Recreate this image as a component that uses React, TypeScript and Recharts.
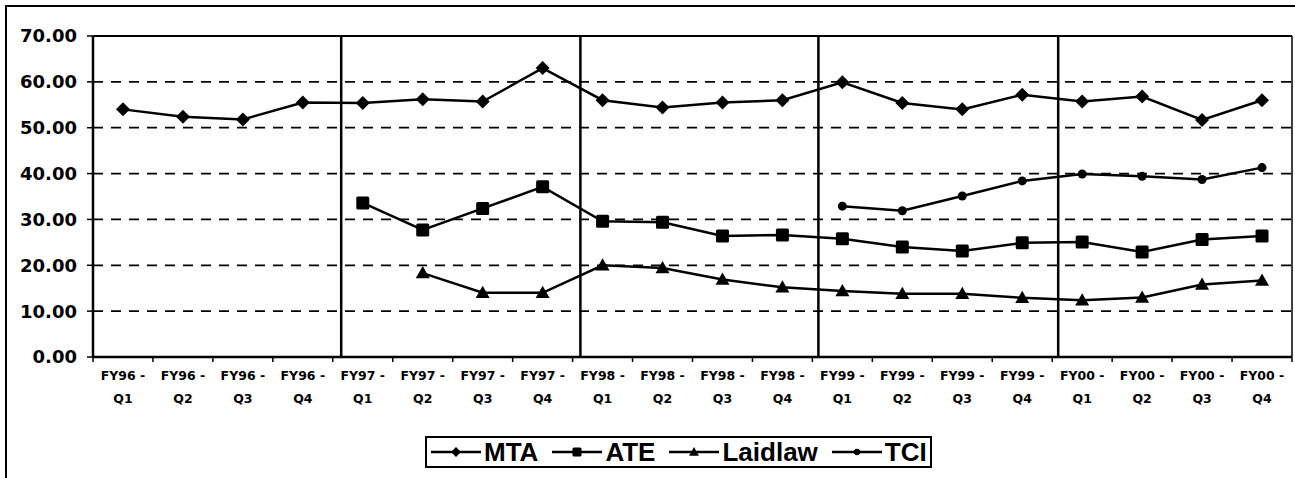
import React from 'react'
import { LineChart, Line, XAxis, YAxis, CartesianGrid, ReferenceLine, Legend } from 'recharts'

const quarters = [
  'FY96 - Q1', 'FY96 - Q2', 'FY96 - Q3', 'FY96 - Q4',
  'FY97 - Q1', 'FY97 - Q2', 'FY97 - Q3', 'FY97 - Q4',
  'FY98 - Q1', 'FY98 - Q2', 'FY98 - Q3', 'FY98 - Q4',
  'FY99 - Q1', 'FY99 - Q2', 'FY99 - Q3', 'FY99 - Q4',
  'FY00 - Q1', 'FY00 - Q2', 'FY00 - Q3', 'FY00 - Q4',
]

const mta = [54.0, 52.4, 51.8, 55.5, 55.4, 56.2, 55.7, 63.0, 56.0, 54.4, 55.5, 56.0, 59.9, 55.4, 54.0, 57.2, 55.7, 56.8, 51.7, 56.0]
const ate = [null, null, null, null, 33.6, 27.7, 32.4, 37.1, 29.6, 29.4, 26.4, 26.6, 25.8, 24.0, 23.1, 24.9, 25.1, 22.9, 25.6, 26.4]
const laidlaw = [null, null, null, null, null, 18.3, 14.0, 14.0, 20.0, 19.4, 16.9, 15.2, 14.4, 13.8, 13.8, 12.9, 12.4, 13.0, 15.8, 16.7]
const tci = [null, null, null, null, null, null, null, null, null, null, null, null, 32.9, 31.9, 35.1, 38.4, 39.9, 39.4, 38.7, 41.3]

const yTicks = [0, 10, 20, 30, 40, 50, 60, 70]
// year separators sit a little right of the category boundaries in the original
const yearBreaks = [3.64, 7.63, 11.6, 15.6]

const data = quarters.map((q, i) => ({
  x: i,
  MTA: mta[i],
  ATE: ate[i],
  Laidlaw: laidlaw[i],
  TCI: tci[i],
}))

// ticks at every category centre (labels) and every boundary (tick marks)
const xTicks: number[] = []
for (let i = -1; i < quarters.length; i++) {
  if (i >= 0) xTicks.push(i)
  xTicks.push(i + 0.5)
}

const AXIS_FONT = '"DejaVu Sans", sans-serif'
const LEGEND_FONT = '"Liberation Sans", Arial, sans-serif'

type Shape = 'diamond' | 'square' | 'triangle' | 'circle'

function Marker({ cx, cy, shape, s = 1 }: { cx: number; cy: number; shape: Shape; s?: number }) {
  if (shape === 'diamond') {
    const r = 7 * s
    return <polygon points={`${cx},${cy - r} ${cx + r},${cy} ${cx},${cy + r} ${cx - r},${cy}`} fill="#000" />
  }
  if (shape === 'square') {
    const r = 6.5 * s
    return <rect x={cx - r} y={cy - r} width={r * 2} height={r * 2} rx={1.5} fill="#000" />
  }
  if (shape === 'triangle') {
    const r = 7 * s
    return <polygon points={`${cx},${cy - r} ${cx + r},${cy + r * 0.75} ${cx - r},${cy + r * 0.75}`} fill="#000" />
  }
  return <circle cx={cx} cy={cy} r={4.5 * s} fill="#000" />
}

const makeDot = (shape: Shape) => (props: any) => {
  const { cx, cy, index, value } = props
  if (cx == null || cy == null || value == null) return <g key={`d-${index}`} />
  return <Marker key={`d-${index}`} cx={cx} cy={cy} shape={shape} />
}

function QuarterTick({ x, y, payload }: any) {
  const v = payload.value
  if (!Number.isInteger(v)) {
    return <line x1={x} x2={x} y1={y} y2={y + 5} stroke="#000" strokeWidth={1.5} />
  }
  const [fy, q] = quarters[v].split(' - ')
  return (
    <text x={x} y={y} textAnchor="middle" fill="#000" fontFamily={AXIS_FONT} fontWeight="bold" fontSize={12.5}>
      <tspan x={x} dy={23}>{`${fy} -`}</tspan>
      <tspan x={x} dy={23}>{q}</tspan>
    </text>
  )
}

const series: { key: string; shape: Shape }[] = [
  { key: 'MTA', shape: 'diamond' },
  { key: 'ATE', shape: 'square' },
  { key: 'Laidlaw', shape: 'triangle' },
  { key: 'TCI', shape: 'circle' },
]

function LegendBox() {
  return (
    <div
      style={{
        display: 'flex',
        alignItems: 'center',
        border: '2px solid #000',
        background: '#fff',
        padding: '1px 3px 1px 4px',
        fontFamily: LEGEND_FONT,
        fontWeight: 'bold',
        fontSize: 26,
        lineHeight: '26px',
        whiteSpace: 'nowrap',
      }}
    >
      {series.map((s, i) => (
        <span key={s.key} style={{ display: 'flex', alignItems: 'center', marginLeft: i === 0 ? 0 : 14 }}>
          <svg width={50} height={18} style={{ marginRight: 3 }}>
            <line x1={0} x2={50} y1={9} y2={9} stroke="#000" strokeWidth={2.5} />
            <Marker cx={25} cy={9} shape={s.shape} s={0.7} />
          </svg>
          {s.key}
        </span>
      ))}
    </div>
  )
}

export default function App() {
  return (
    <div style={{ position: 'absolute', left: 0, top: 0, width: 1295, height: 478, background: '#fff', overflow: 'hidden' }}>
      <div
        style={{
          position: 'absolute',
          left: 5,
          top: 5,
          width: 1310,
          height: 500,
          border: '2px solid #000',
          boxSizing: 'border-box',
        }}
      />
      <LineChart width={1295} height={478} data={data} margin={{ top: 36, right: 3, bottom: 81, left: 0 }}>
        <CartesianGrid
          vertical={false}
          horizontalValues={[10, 20, 30, 40, 50, 60]}
          stroke="#000"
          strokeWidth={1.8}
          strokeDasharray="10 8"
        />
        <XAxis
          dataKey="x"
          type="number"
          domain={[-0.5, quarters.length - 0.5]}
          ticks={xTicks}
          interval={0}
          tick={<QuarterTick />}
          tickLine={false}
          tickSize={0}
          tickMargin={0}
          axisLine={{ stroke: '#000', strokeWidth: 2.5 }}
          height={40}
          allowDecimals
        />
        <YAxis
          type="number"
          domain={[0, 70]}
          ticks={yTicks}
          interval={0}
          width={93}
          tickFormatter={(v: number) => v.toFixed(2)}
          tick={{ fill: '#000', fontFamily: AXIS_FONT, fontWeight: 'bold', fontSize: 18 }}
          tickLine={{ stroke: '#000', strokeWidth: 1.5 }}
          tickSize={6}
          tickMargin={10}
          axisLine={{ stroke: '#000', strokeWidth: 2.5 }}
        />
        <ReferenceLine y={70} stroke="#000" strokeWidth={1.8} />
        <ReferenceLine x={quarters.length - 0.5} stroke="#000" strokeWidth={1.5} />
        {yearBreaks.map((b) => (
          <ReferenceLine key={b} x={b} stroke="#000" strokeWidth={2.5} />
        ))}
        {series.map((s) => (
          <Line
            key={s.key}
            type="linear"
            dataKey={s.key}
            stroke="#000"
            strokeWidth={2.5}
            dot={makeDot(s.shape)}
            activeDot={false}
            isAnimationActive={false}
            connectNulls={false}
          />
        ))}
        <Legend
          layout="horizontal"
          verticalAlign="middle"
          align="center"
          wrapperStyle={{ left: 425, top: 436, width: 'auto', height: 'auto' }}
          content={() => <LegendBox />}
        />
      </LineChart>
    </div>
  )
}
